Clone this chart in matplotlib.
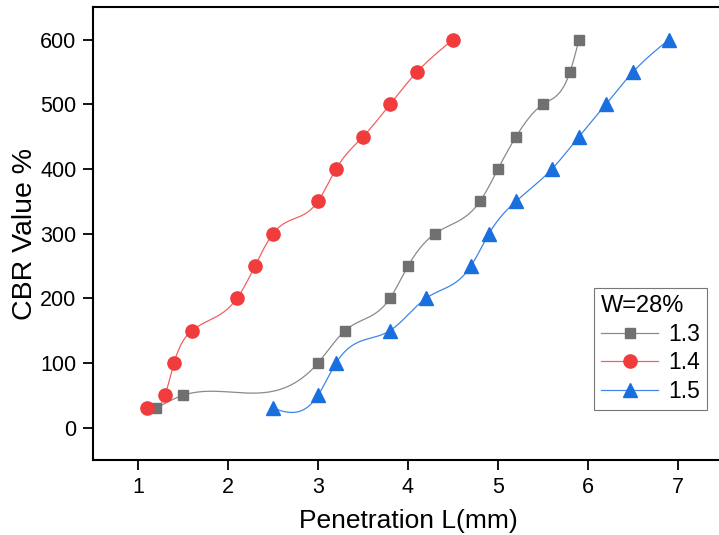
import numpy as np
import matplotlib
matplotlib.use("Agg")
import matplotlib.pyplot as plt

plt.rcParams['font.family'] = ['Liberation Sans', 'DejaVu Sans']

# ---- data ----
x_13 = [1.2, 1.5, 3.0, 3.3, 3.8, 4.0, 4.3, 4.8, 5.0, 5.2, 5.5, 5.8, 5.9]
y_13 = [30, 50, 100, 150, 200, 250, 300, 350, 400, 450, 500, 550, 600]
x_14 = [1.1, 1.3, 1.4, 1.6, 2.1, 2.3, 2.5, 3.0, 3.2, 3.5, 3.8, 4.1, 4.5]
y_14 = [30, 50, 100, 150, 200, 250, 300, 350, 400, 450, 500, 550, 600]
x_15 = [2.5, 3.0, 3.2, 3.8, 4.2, 4.7, 4.9, 5.2, 5.6, 5.9, 6.2, 6.5, 6.9]
y_15 = [30, 50, 100, 150, 200, 250, 300, 350, 400, 450, 500, 550, 600]
series_labels = ['1.3', '1.4', '1.5']
legend_title = 'W=28%'
x_ticks = [1, 2, 3, 4, 5, 6, 7]
y_ticks = [0, 100, 200, 300, 400, 500, 600]

colors = ['#707070', '#F03C3C', '#1A6FDF']
line_colors = ['#8a8a8a', '#F26060', '#3F86E6']
markers = ['s', 'o', '^']
msizes = [7.5, 9.5, 10]


def natural_spline(t, v, tt):
    t = np.asarray(t, float); v = np.asarray(v, float)
    n = len(t)
    h = np.diff(t)
    A = np.zeros((n, n)); b = np.zeros(n)
    A[0, 0] = 1; A[-1, -1] = 1
    for i in range(1, n - 1):
        A[i, i - 1] = h[i - 1]
        A[i, i] = 2 * (h[i - 1] + h[i])
        A[i, i + 1] = h[i]
        b[i] = 3 * ((v[i + 1] - v[i]) / h[i] - (v[i] - v[i - 1]) / h[i - 1])
    c = np.linalg.solve(A, b)
    out = np.empty_like(tt)
    for k, x in enumerate(tt):
        i = min(max(np.searchsorted(t, x) - 1, 0), n - 2)
        dx = x - t[i]
        bi = (v[i + 1] - v[i]) / h[i] - h[i] * (2 * c[i] + c[i + 1]) / 3
        di = (c[i + 1] - c[i]) / (3 * h[i])
        out[k] = v[i] + bi * dx + c[i] * dx ** 2 + di * dx ** 3
    return out


def smooth(xs, ys):
    xs = np.asarray(xs, float)
    xx = np.linspace(xs[0], xs[-1], 800)
    return xx, natural_spline(xs, ys, xx)


fig = plt.figure(figsize=(7.19, 5.35), dpi=100)
ax = fig.add_axes([93 / 719, 75 / 535, 630 / 719, 452.7 / 535])

handles = []
for xs, ys, c, lc, m, ms, lab in zip([x_13, x_14, x_15], [y_13, y_14, y_15],
                                      colors, line_colors, markers, msizes, series_labels):
    sx, sy = smooth(xs, ys)
    ax.plot(sx, sy, color=lc, lw=0.9, zorder=2)
    ax.plot(xs, ys, linestyle='none', marker=m, ms=ms, color=c, mec=c, zorder=3)
    h, = ax.plot([], [], color=lc, lw=0.9, marker=m, ms=ms, mfc=c, mec=c, label=lab)
    handles.append(h)

ax.set_xlim(0.5, 7.5)
ax.set_ylim(-50, 650)
ax.set_xticks(x_ticks)
ax.set_yticks(y_ticks)
ax.tick_params(direction='out', length=7, width=1.3, labelsize=15.5, pad=5)
for s in ax.spines.values():
    s.set_linewidth(1.5)

ax.set_xlabel('Penetration L(mm)', fontsize=19, labelpad=8)
ax.set_ylabel('CBR Value %', fontsize=20.5)
ax.yaxis.set_label_coords(-55 / 630, 0.5)

leg = ax.legend(handles=handles, title=legend_title, loc='upper left',
                bbox_to_anchor=((594 - 93) / 630, (460 - 288) / 452.7),
                fontsize=16.5, title_fontsize=17, frameon=True, fancybox=False,
                edgecolor='#555555', handlelength=2.5, handletextpad=0.45,
                borderpad=0.3, labelspacing=0.25, borderaxespad=0)
leg._legend_box.align = 'left'
leg.get_frame().set_linewidth(0.8)

fig.savefig('out.png', dpi=100)
